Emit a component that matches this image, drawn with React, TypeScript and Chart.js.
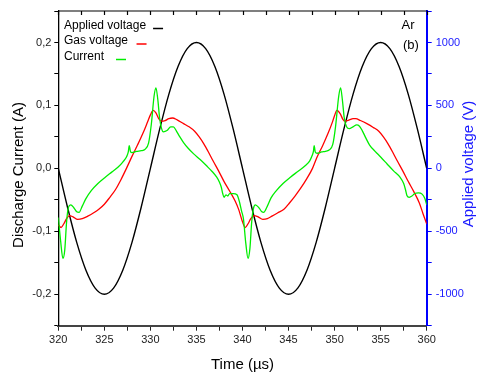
import React, { useEffect, useRef } from 'react';
import { Chart, registerables } from 'chart.js';

Chart.register(...registerables);

const FONT = '"Liberation Sans", Arial, sans-serif';

// Applied voltage (V), right axis, every 1 µs from 320 to 360
const appliedTime = [
  320, 321, 322, 323, 324, 325, 326, 327, 328, 329, 330, 331, 332, 333, 334, 335, 336, 337, 338, 339,
  340, 341, 342, 343, 344, 345, 346, 347, 348, 349, 350, 351, 352, 353, 354, 355, 356, 357, 358, 359, 360,
];
const appliedVoltage = [
  0, -309, -588, -809, -951, -1000, -951, -809, -588, -309, 0, 309, 588, 809, 951, 1000, 951, 809, 588, 309,
  0, -309, -588, -809, -951, -1000, -951, -809, -588, -309, 0, 309, 588, 809, 951, 1000, 951, 809, 588, 309, 0,
];

// Gas voltage (drawn on the current axis scale)
const gasTime = [
  320.0, 320.3, 320.6, 320.9, 321.2, 321.6, 322.1, 322.6, 323.2, 323.8, 324.4, 325.0, 325.6, 326.2, 326.8,
  327.4, 328.0, 328.6, 329.2, 329.7, 330.0, 330.3, 330.6, 330.9, 331.2, 331.6, 332.0, 332.4, 332.9, 333.6,
  334.2, 334.8, 335.3, 335.8, 336.3, 336.8, 337.4, 338.0, 338.6, 339.2, 339.6,
  340.0, 340.3, 340.6, 340.9, 341.25, 341.7, 342.2, 342.7, 343.2, 343.8, 344.5, 345.1, 345.7, 346.3, 347.0,
  347.6, 348.1, 348.7, 349.3, 349.8, 350.0, 350.25, 350.6, 350.9, 351.15, 351.6, 352.0, 352.3, 352.8, 353.5,
  354.2, 354.8, 355.3, 355.8, 356.3, 356.8, 357.4, 358.0, 358.6, 359.2, 359.6, 360.0,
];
const gasVoltage = [
  -0.090, -0.094, -0.088, -0.080, -0.075, -0.077, -0.081, -0.080, -0.076, -0.071, -0.065, -0.057, -0.046, -0.034, -0.018,
  0.000, 0.019, 0.037, 0.056, 0.074, 0.085, 0.092, 0.088, 0.079, 0.075, 0.076, 0.079, 0.080, 0.077, 0.071,
  0.066, 0.059, 0.050, 0.039, 0.026, 0.012, -0.004, -0.021, -0.036, -0.052, -0.066,
  -0.085, -0.094, -0.088, -0.080, -0.075, -0.077, -0.081, -0.080, -0.076, -0.071, -0.065, -0.055, -0.044, -0.032, -0.016,
  0.000, 0.018, 0.036, 0.056, 0.075, 0.084, 0.092, 0.087, 0.078, 0.075, 0.077, 0.079, 0.079, 0.076, 0.071,
  0.065, 0.059, 0.050, 0.039, 0.026, 0.012, -0.004, -0.021, -0.037, -0.055, -0.072, -0.088,
];

// Discharge current (A)
const currentTime = [
  320.0, 320.25, 320.5, 320.7, 320.9, 321.1, 321.35, 321.7, 322.0, 322.25, 322.6, 323.0, 323.6, 324.3, 325.1,
  325.8, 326.5, 327.0, 327.4, 327.6, 327.7, 327.85, 328.0, 328.5, 329.0, 329.4, 329.8, 330.1, 330.4, 330.6,
  330.8, 331.0, 331.2, 331.4, 331.8, 332.2, 332.5, 332.8, 333.2, 333.6, 334.1, 334.7, 335.4, 336.1, 336.7,
  337.2, 337.5, 337.7, 337.85, 338.0, 338.2, 338.4, 338.6, 339.0, 339.4, 339.7, 339.9,
  340.1, 340.35, 340.6, 340.8, 341.0, 341.2, 341.4, 341.8, 342.1, 342.3, 342.7, 343.1, 343.7, 344.4, 345.2,
  346.0, 346.8, 347.3, 347.55, 347.7, 347.78, 347.9, 348.1, 348.6, 349.0, 349.4, 349.8, 350.1, 350.45, 350.65,
  350.85, 351.05, 351.3, 351.6, 352.0, 352.4, 352.7, 353.0, 353.4, 353.8, 354.4, 355.0, 355.7, 356.4, 357.1,
  357.5, 357.7, 357.85, 358.1, 358.4, 358.7, 359.1, 359.5, 359.8, 360.0,
];
const currentValues = [
  -0.078, -0.115, -0.143, -0.130, -0.085, -0.062, -0.058, -0.063, -0.069, -0.070, -0.060, -0.048, -0.035, -0.024, -0.014,
  -0.006, 0.002, 0.010, 0.018, 0.026, 0.036, 0.026, 0.025, 0.027, 0.028, 0.030, 0.040, 0.070, 0.115, 0.128,
  0.110, 0.080, 0.064, 0.058, 0.060, 0.066, 0.066, 0.060, 0.050, 0.041, 0.032, 0.023, 0.014, 0.004, -0.005,
  -0.014, -0.022, -0.030, -0.040, -0.046, -0.042, -0.044, -0.040, -0.040, -0.042, -0.055, -0.068,
  -0.080, -0.118, -0.143, -0.128, -0.085, -0.063, -0.058, -0.063, -0.069, -0.070, -0.060, -0.047, -0.035, -0.024, -0.014,
  -0.005, 0.004, 0.012, 0.020, 0.027, 0.036, 0.026, 0.024, 0.026, 0.027, 0.029, 0.038, 0.066, 0.115, 0.128,
  0.108, 0.080, 0.066, 0.063, 0.066, 0.069, 0.067, 0.060, 0.048, 0.037, 0.027, 0.018, 0.007, -0.004, -0.014,
  -0.024, -0.034, -0.043, -0.046, -0.044, -0.040, -0.039, -0.041, -0.048, -0.058,
];

const seriesLabels = ['Applied voltage', 'Gas voltage', 'Current'];
const seriesColors = ['#000000', '#ff0000', '#00ee00'];

const pairs = (xs: number[], ys: number[]) => xs.map((x, i) => ({ x, y: ys[i] }));

const decorPlugin = {
  id: 'decor',
  afterDraw(chart: any) {
    const ctx = chart.ctx;
    const { left, right, top } = chart.chartArea;
    const xs = chart.scales.x;
    ctx.save();
    // top frame with inward ticks
    ctx.strokeStyle = '#000';
    ctx.lineWidth = 1.2;
    ctx.beginPath();
    ctx.moveTo(left, top);
    ctx.lineTo(right, top);
    ctx.stroke();
    for (let v = 320; v <= 360; v += 2.5) {
      const px = Math.round(xs.getPixelForValue(v)) + 0.5;
      ctx.beginPath();
      ctx.moveTo(px, top);
      ctx.lineTo(px, top + 4);
      ctx.stroke();
    }
    // legend
    ctx.font = `12px ${FONT}`;
    ctx.textBaseline = 'middle';
    ctx.textAlign = 'left';
    const rowsY = [25.5, 41, 56.5];
    const gaps = [7, 8.5, 12];
    seriesLabels.forEach((lab, i) => {
      ctx.fillStyle = '#000';
      ctx.fillText(lab, 64, rowsY[i]);
      const w = ctx.measureText(lab).width;
      ctx.strokeStyle = seriesColors[i];
      ctx.lineWidth = 1.5;
      ctx.beginPath();
      ctx.moveTo(64 + w + gaps[i], rowsY[i] + 3);
      ctx.lineTo(64 + w + gaps[i] + 10, rowsY[i] + 3);
      ctx.stroke();
    });
    // annotations
    ctx.fillStyle = '#000';
    ctx.font = `13px ${FONT}`;
    ctx.fillText('Ar', 401.5, 25.5);
    ctx.fillText('(b)', 403, 45.5);
    // axis titles
    ctx.font = `15px ${FONT}`;
    ctx.textAlign = 'center';
    ctx.save();
    ctx.translate(19, 175);
    ctx.rotate(-Math.PI / 2);
    ctx.fillStyle = '#000';
    ctx.fillText('Discharge Current (A)', 0, 0);
    ctx.restore();
    ctx.save();
    ctx.translate(469, 164);
    ctx.rotate(-Math.PI / 2);
    ctx.fillStyle = '#1a1aff';
    ctx.fillText('Applied voltage (V)', 0, 0);
    ctx.restore();
    ctx.restore();
  },
};

export default function App() {
  const ref = useRef<HTMLCanvasElement>(null);
  useEffect(() => {
    if (!ref.current) return;
    const chart = new Chart(ref.current, {
      type: 'line',
      data: {
        datasets: [
          {
            label: seriesLabels[2],
            data: pairs(currentTime, currentValues),
            borderColor: seriesColors[2],
            borderWidth: 1.3,
            pointRadius: 0,
            cubicInterpolationMode: 'monotone',
            yAxisID: 'y',
            order: 1,
          },
          {
            label: seriesLabels[1],
            data: pairs(gasTime, gasVoltage),
            borderColor: seriesColors[1],
            borderWidth: 1.3,
            pointRadius: 0,
            cubicInterpolationMode: 'monotone',
            yAxisID: 'y',
            order: 2,
          },
          {
            label: seriesLabels[0],
            data: pairs(appliedTime, appliedVoltage),
            borderColor: seriesColors[0],
            borderWidth: 1.4,
            pointRadius: 0,
            cubicInterpolationMode: 'monotone',
            yAxisID: 'y1',
            order: 3,
          },
        ],
      },
      options: {
        responsive: false,
        animation: false,
        devicePixelRatio: 1,
        layout: { padding: { top: 11, left: 0, right: 0, bottom: 0 } },
        plugins: { legend: { display: false }, tooltip: { enabled: false } },
        scales: {
          x: {
            type: 'linear',
            position: 'bottom',
            min: 320,
            max: 360,
            afterFit: (s: any) => { s.height = 48.3; },
            ticks: {
              stepSize: 2.5,
              autoSkip: false,
              maxRotation: 0,
              padding: 3,
              color: '#222',
              font: { family: FONT, size: 11 },
              callback: (v: any) => (Math.abs(v % 5) < 1e-6 ? String(v) : ''),
            },
            grid: { drawOnChartArea: false, drawTicks: true, tickLength: 5, color: '#222', lineWidth: 1 },
            border: { display: true, color: '#444', width: 2 },
            title: {
              display: true,
              text: 'Time (µs)',
              color: '#000',
              font: { family: FONT, size: 15 },
              padding: { top: 0, bottom: 0 },
            },
          },
          y: {
            type: 'linear',
            position: 'left',
            min: -0.25,
            max: 0.25,
            afterFit: (s: any) => { s.width = 58.3; },
            ticks: {
              stepSize: 0.05,
              autoSkip: false,
              padding: 3,
              color: '#222',
              font: { family: FONT, size: 11 },
              callback: (v: any) => {
                const k = Math.round(v * 100);
                if (k % 10 !== 0) return '';
                const s = (k / 100).toFixed(1).replace('.', ',');
                return s === '-0,0' ? '0,0' : s;
              },
            },
            grid: { drawOnChartArea: false, drawTicks: true, tickLength: 4, color: '#000', lineWidth: 1 },
            border: { display: true, color: '#000', width: 1.3 },
          },
          y1: {
            type: 'linear',
            position: 'right',
            min: -1250,
            max: 1250,
            afterFit: (s: any) => { s.width = 50.3; },
            ticks: {
              stepSize: 250,
              autoSkip: false,
              padding: 4,
              color: '#1a1aff',
              font: { family: FONT, size: 11 },
              callback: (v: any) => (Math.round(v) % 500 === 0 ? String(v) : ''),
            },
            grid: { drawOnChartArea: false, drawTicks: true, tickLength: 5, color: '#0000ff', lineWidth: 1 },
            border: { display: true, color: '#0000ff', width: 2 },
          },
        },
      },
      plugins: [decorPlugin],
    });
    return () => chart.destroy();
  }, []);
  return (
    <div style={{ position: 'absolute', left: 0, top: 0, width: 477, height: 374, background: '#fff' }}>
      <canvas ref={ref} width={477} height={374} />
    </div>
  );
}
